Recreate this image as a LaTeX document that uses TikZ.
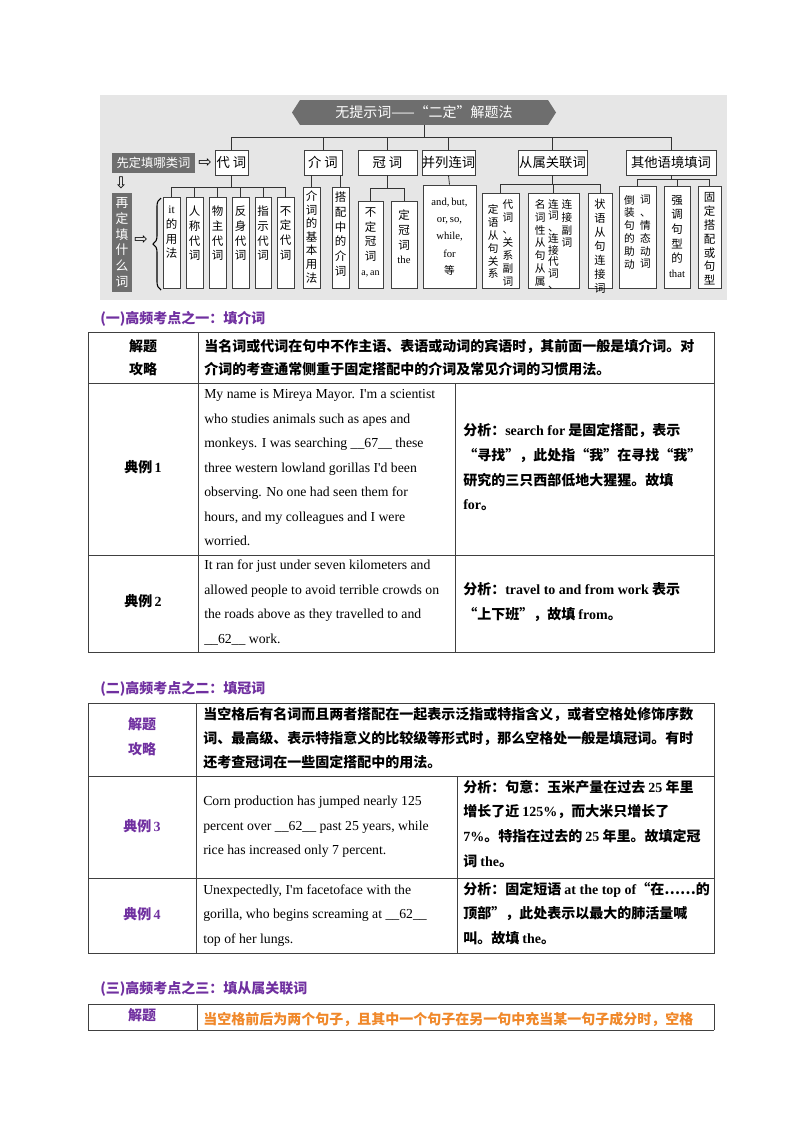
\documentclass[tikz,border=0pt]{standalone}
\usepackage{fontspec}
\setmainfont{Liberation Serif}
\newfontfamily\cjk{Noto Sans CJK SC}
\newfontfamily\en{Liberation Serif}
\newfontfamily\dv{DejaVu Sans}
\usetikzlibrary{fit,positioning,decorations.pathreplacing}
\definecolor{bggray}{HTML}{E6E6E6}
\definecolor{dkgray}{HTML}{6E6E6E}
\definecolor{ppl}{HTML}{7030A0}
\definecolor{org}{HTML}{F0882A}
\definecolor{tline}{HTML}{404040}
\newcommand{\E}[1]{{\en\bfseries #1}}
\tikzset{
 lone/.style={draw=black!75,fill=white,line width=0.6pt,inner sep=0pt},
 ltxt/.style={font=\cjk\fontsize{10}{11}\selectfont},
 vtxt/.style={font=\cjk\fontsize{8.6}{11}\selectfont,align=center,inner sep=0pt},
 ctxt/.style={font=\cjk\fontsize{8}{9.6}\selectfont,align=center,inner sep=0pt},
 dark/.style={fill=dkgray,text=white,inner sep=0pt},
 conn/.style={draw=black!80,line width=0.6pt},
 tl/.style={anchor=base west,inner sep=0pt},
 tc/.style={anchor=base,inner sep=0pt},
 zh/.style={font=\cjk\bfseries\fontsize{10.5}{12}\selectfont},
 ent/.style={font=\en\fontsize{10.3}{12}\selectfont},
 hd/.style={font=\cjk\bfseries\fontsize{10.5}{12}\selectfont,text=ppl},
 grid/.style={draw=tline,line width=0.7pt}
}
\begin{document}
\begin{tikzpicture}[x=0.75pt,y=-0.75pt]
\useasboundingbox (0,0) rectangle (800,1132);
\fill[white] (0,0) rectangle (800,1132);
% ===== diagram =====
\fill[bggray] (100,95) rectangle (727,300);
\node[fill=dkgray,inner sep=0pt,fit={(300,100)(548,125)}] (banner) {};
\fill[dkgray] (300,100) -- (292,112.5) -- (300,125) -- cycle;
\fill[dkgray] (548,100) -- (556,112.5) -- (548,125) -- cycle;
\node[text=white,font=\cjk\fontsize{10.5}{11}\selectfont] at (banner.center) {无提示词——“二定”解题法};
\coordinate (bus) at (0,137);
% level 1
\node[lone,fit={(215,150)(248,175)}] (dai) {};   \node[ltxt] at (dai) {代 词};
\node[lone,fit={(304,150)(342,175)}] (jie) {};   \node[ltxt] at (jie) {介 词};
\node[lone,fit={(358,150)(417,175)}] (guan) {};  \node[ltxt] at (guan) {冠 词};
\node[lone,fit={(422,150)(475,175)}] (bing) {};  \node[ltxt] at (bing) {并列连词};
\node[lone,fit={(518,150)(587,175)}] (cong) {};  \node[ltxt] at (cong) {从属关联词};
\node[lone,fit={(626,150)(716,175)}] (qita) {};  \node[ltxt] at (qita) {其他语境填词};
\draw[conn] (banner.south) -- (banner.south |- bus);
\draw[conn] (dai.north) -- (dai.north |- bus) -| (qita.north);
\foreach \n in {jie,guan,bing,cong} \draw[conn] (\n.north) -- (\n.north |- bus);
% left dark labels
\node[dark,fit={(112,153)(195,173)}] (xian) {};
\node[text=white,font=\cjk\fontsize{9.2}{10}\selectfont] at (xian) {先定填哪类词};
\node[font=\dv\fontsize{12}{12}\selectfont,inner sep=0pt] (ar1) at (205,163) {⇨};
\node[font=\dv\fontsize{12}{12}\selectfont,inner sep=0pt] (ar2) at (121,183) {⇩};
\node[dark,fit={(112,193)(132,292)}] (zai) {};
\node[text=white,font=\cjk\fontsize{9.6}{11.8}\selectfont,align=center,inner sep=0pt] at (zai) {再\\定\\填\\什\\么\\词};
\node[font=\dv\fontsize{12}{12}\selectfont,inner sep=0pt] (ar3) at (141,240) {⇨};
\draw[line width=0.8pt,decorate,decoration={brace,amplitude=6pt}] (161,290) -- (161,198);
% pronoun leaves
\foreach \n/\a/\b/\t in {p1/163/180/{\en it\\的\\用\\法},p2/186/203/{人\\称\\代\\词},p3/209/226/{物\\主\\代\\词},p4/232/249/{反\\身\\代\\词},p5/255/271/{指\\示\\代\\词},p6/277/294/{不\\定\\代\\词}}{
  \node[lone,fit={(\a,197)(\b,288)}] (\n) {};
  \node[vtxt,below=7pt of \n.north] {\t};
}
\draw[conn] (dai.south) -- ++(0,12) coordinate (db);
\draw[conn] (p1.north) |- (db) -| (p6.north);
\foreach \n in {p2,p3,p4,p5} \draw[conn] (\n.north) -- (\n.north |- db);
% prepositions
\node[lone,fit={(303,187)(320,288)}] (j1) {};
\node[vtxt,below=3pt of j1.north,font=\cjk\fontsize{8.6}{10.2}\selectfont] {介\\词\\的\\基\\本\\用\\法};
\node[lone,fit={(332,187)(349,288)}] (j2) {};
\node[vtxt,below=4pt of j2.north] {搭\\配\\中\\的\\介\\词};
\draw[conn] (j1.north) -- (j1.north |- jie.south);
\draw[conn] (j2.north) -- (j2.north |- jie.south);
% articles
\node[lone,fit={(358,201)(383,288)}] (g1) {};
\node[vtxt,below=5pt of g1.north] {不\\定\\冠\\词\\{\en\fontsize{7.5}{8}\selectfont a,\,an}};
\node[lone,fit={(391,201)(417,288)}] (g2) {};
\node[vtxt,below=7pt of g2.north] {定\\冠\\词\\{\en\fontsize{8}{8}\selectfont the}};
\draw[conn] (guan.south) -- ++(0,13) coordinate (gb);
\draw[conn] (g1.north) |- (gb) -| (g2.north);
% coordinating
\node[lone,fit={(423,185)(476,288)}] (b1) {};
\node[align=center,font=\en\fontsize{8}{13}\selectfont,inner sep=0pt] at (b1) {and,\,but,\\or,\,so,\\while,\\for\\{\cjk 等}};
\draw[conn] (bing.south) -- (b1.north);
% subordinate
\node[lone,fit={(482,193)(519,288)}] (c1) {};
\node[ctxt,anchor=north] at ([xshift=-5.5pt,yshift=-9pt]c1.north) {定\\语\\从\\句\\关\\系};
\node[ctxt,anchor=north] at ([xshift=5.5pt,yshift=-5pt]c1.north) {代\\词\\、\\关\\系\\副\\词};
\node[lone,fit={(528,193)(579,288)}] (c2) {};
\node[ctxt,anchor=north] at ([xshift=-10pt,yshift=-5pt]c2.north) {名\\词\\性\\从\\句\\从\\属};
\node[ctxt,anchor=north,font=\cjk\fontsize{8}{8.6}\selectfont] at ([xshift=0pt,yshift=-5pt]c2.north) {连\\词\\、\\连\\接\\代\\词\\、};
\node[ctxt,anchor=north] at ([xshift=10pt,yshift=-5pt]c2.north) {连\\接\\副\\词};
\node[lone,fit={(588,193)(612,288)}] (c3) {};
\node[ctxt,below=5pt of c3.north,font=\cjk\fontsize{8.4}{10.4}\selectfont] {状\\语\\从\\句\\连\\接\\词};
\draw[conn] (cong.south) -- ++(0,9) coordinate (cb);
\draw[conn] (c1.north) |- (cb) -| (c3.north);
\draw[conn] (c2.north) -- (c2.north |- cb);
% others
\node[lone,fit={(619,186)(656,288)}] (q1) {};
\node[ctxt,anchor=north] at ([xshift=-6pt,yshift=-7pt]q1.north) {倒\\装\\句\\的\\助\\动};
\node[ctxt,anchor=north] at ([xshift=6pt,yshift=-7pt]q1.north) {词\\、\\情\\态\\动\\词};
\node[lone,fit={(664,186)(690,288)}] (q2) {};
\node[vtxt,below=7pt of q2.north] {强\\调\\句\\型\\的\\{\en\fontsize{8}{8}\selectfont that}};
\node[lone,fit={(698,186)(721,288)}] (q3) {};
\node[vtxt,below=5pt of q3.north,font=\cjk\fontsize{8.6}{10.4}\selectfont] {固\\定\\搭\\配\\或\\句\\型};
\draw[conn] (qita.south) -- ++(0,4) coordinate (qb);
\draw[conn] (q1.north) |- (qb) -| (q3.north);
\draw[conn] (q2.north) -- (q2.north |- qb);
% ===== section 1 =====
\node[tl,hd] at (100,323) {(一)高频考点之一：填介词};
\draw[grid] (88,332) rectangle (714,652);
\draw[grid] (88,383) -- (714,383) (88,555) -- (714,555);
\draw[grid] (198,332) -- (198,652) (455,383) -- (455,652);
\node[tc,zh] at (143,351) {解题};
\node[tc,zh] at (143,374) {攻略};
\node[tl,zh] at (204,351) {当名词或代词在句中不作主语、表语或动词的宾语时，其前面一般是填介词。对};
\node[tl,zh] at (204,374) {介词的考查通常侧重于固定搭配中的介词及常见介词的习惯用法。};
\node[tc,zh] at (143,472) {典例\,\E{1}};
\foreach \y/\t in {398/{My name is Mireya Mayor. I'm a scientist},423/{who studies animals such as apes and},447/{monkeys. I was searching \_\_67\_\_ these},472/{three western lowland gorillas I'd been},496/{observing. No one had seen them for},521/{hours, and my colleagues and I were},545/{worried.}}
  \node[tl,ent] at (204,\y) {\t};
\node[tl,zh] at (463,435) {分析：\E{search for} 是固定搭配，表示};
\node[tl,zh] at (463,460) {“寻找”，此处指“我”在寻找“我”};
\node[tl,zh] at (463,485) {研究的三只西部低地大猩猩。故填};
\node[tl,zh] at (463,509) {\E{for}。};
\node[tc,zh] at (143,606) {典例\,\E{2}};
\foreach \y/\t in {569/{It ran for just under seven kilometers and},594/{allowed people to avoid terrible crowds on},618/{the roads above as they travelled to and},643/{\_\_62\_\_ work.}}
  \node[tl,ent] at (204,\y) {\t};
\node[tl,zh] at (463,594) {分析：\E{travel to and from work} 表示};
\node[tl,zh] at (463,619) {“上下班”，故填 \E{from}。};
% ===== section 2 =====
\node[tl,hd] at (100,693) {(二)高频考点之二：填冠词};
\draw[grid] (88,703) rectangle (714,953);
\draw[grid] (88,776) -- (714,776) (88,878) -- (714,878);
\draw[grid] (196,703) -- (196,953) (457,776) -- (457,953);
\node[tc,zh,text=ppl] at (142,729) {解题};
\node[tc,zh,text=ppl] at (142,754) {攻略};
\node[tl,zh] at (203,719) {当空格后有名词而且两者搭配在一起表示泛指或特指含义，或者空格处修饰序数};
\node[tl,zh] at (203,743) {词、最高级、表示特指意义的比较级等形式时，那么空格处一般是填冠词。有时};
\node[tl,zh] at (203,767) {还考查冠词在一些固定搭配中的用法。};
\node[tc,zh,text=ppl] at (142,831) {典例\,\E{3}};
\foreach \y/\t in {805/{Corn production has jumped nearly 125},830/{percent over \_\_62\_\_ past 25 years, while},854/{rice has increased only 7 percent.}}
  \node[tl,ent] at (203,\y) {\t};
\node[tl,zh] at (463,792) {分析：句意：玉米产量在过去 \E{25} 年里};
\node[tl,zh] at (463,816) {增长了近 \E{125\%}，而大米只增长了};
\node[tl,zh] at (463,841) {\E{7\%}。特指在过去的 \E{25} 年里。故填定冠};
\node[tl,zh] at (463,866) {词 \E{the}。};
\node[tc,zh,text=ppl] at (142,919) {典例\,\E{4}};
\foreach \y/\t in {894/{Unexpectedly, I'm facetoface with the},918/{gorilla, who begins screaming at \_\_62\_\_},943/{top of her lungs.}}
  \node[tl,ent] at (203,\y) {\t};
\node[tl,zh] at (463,894) {分析：固定短语 \E{at the top of}“在……的};
\node[tl,zh] at (463,918) {顶部”，此处表示以最大的肺活量喊};
\node[tl,zh] at (463,943) {叫。故填 \E{the}。};
% ===== section 3 =====
\node[tl,hd] at (100,993) {(三)高频考点之三：填从属关联词};
\draw[grid] (88,1004) -- (714,1004) (88,1004) -- (88,1030) (714,1004) -- (714,1030) (88,1030) -- (714,1030);
\draw[grid] (197,1004) -- (197,1030);
\node[tc,zh,text=ppl] at (142,1020) {解题};
\node[tl,zh,text=org] at (203,1024) {当空格前后为两个句子，且其中一个句子在另一句中充当某一句子成分时，空格};
\end{tikzpicture}
\end{document}
